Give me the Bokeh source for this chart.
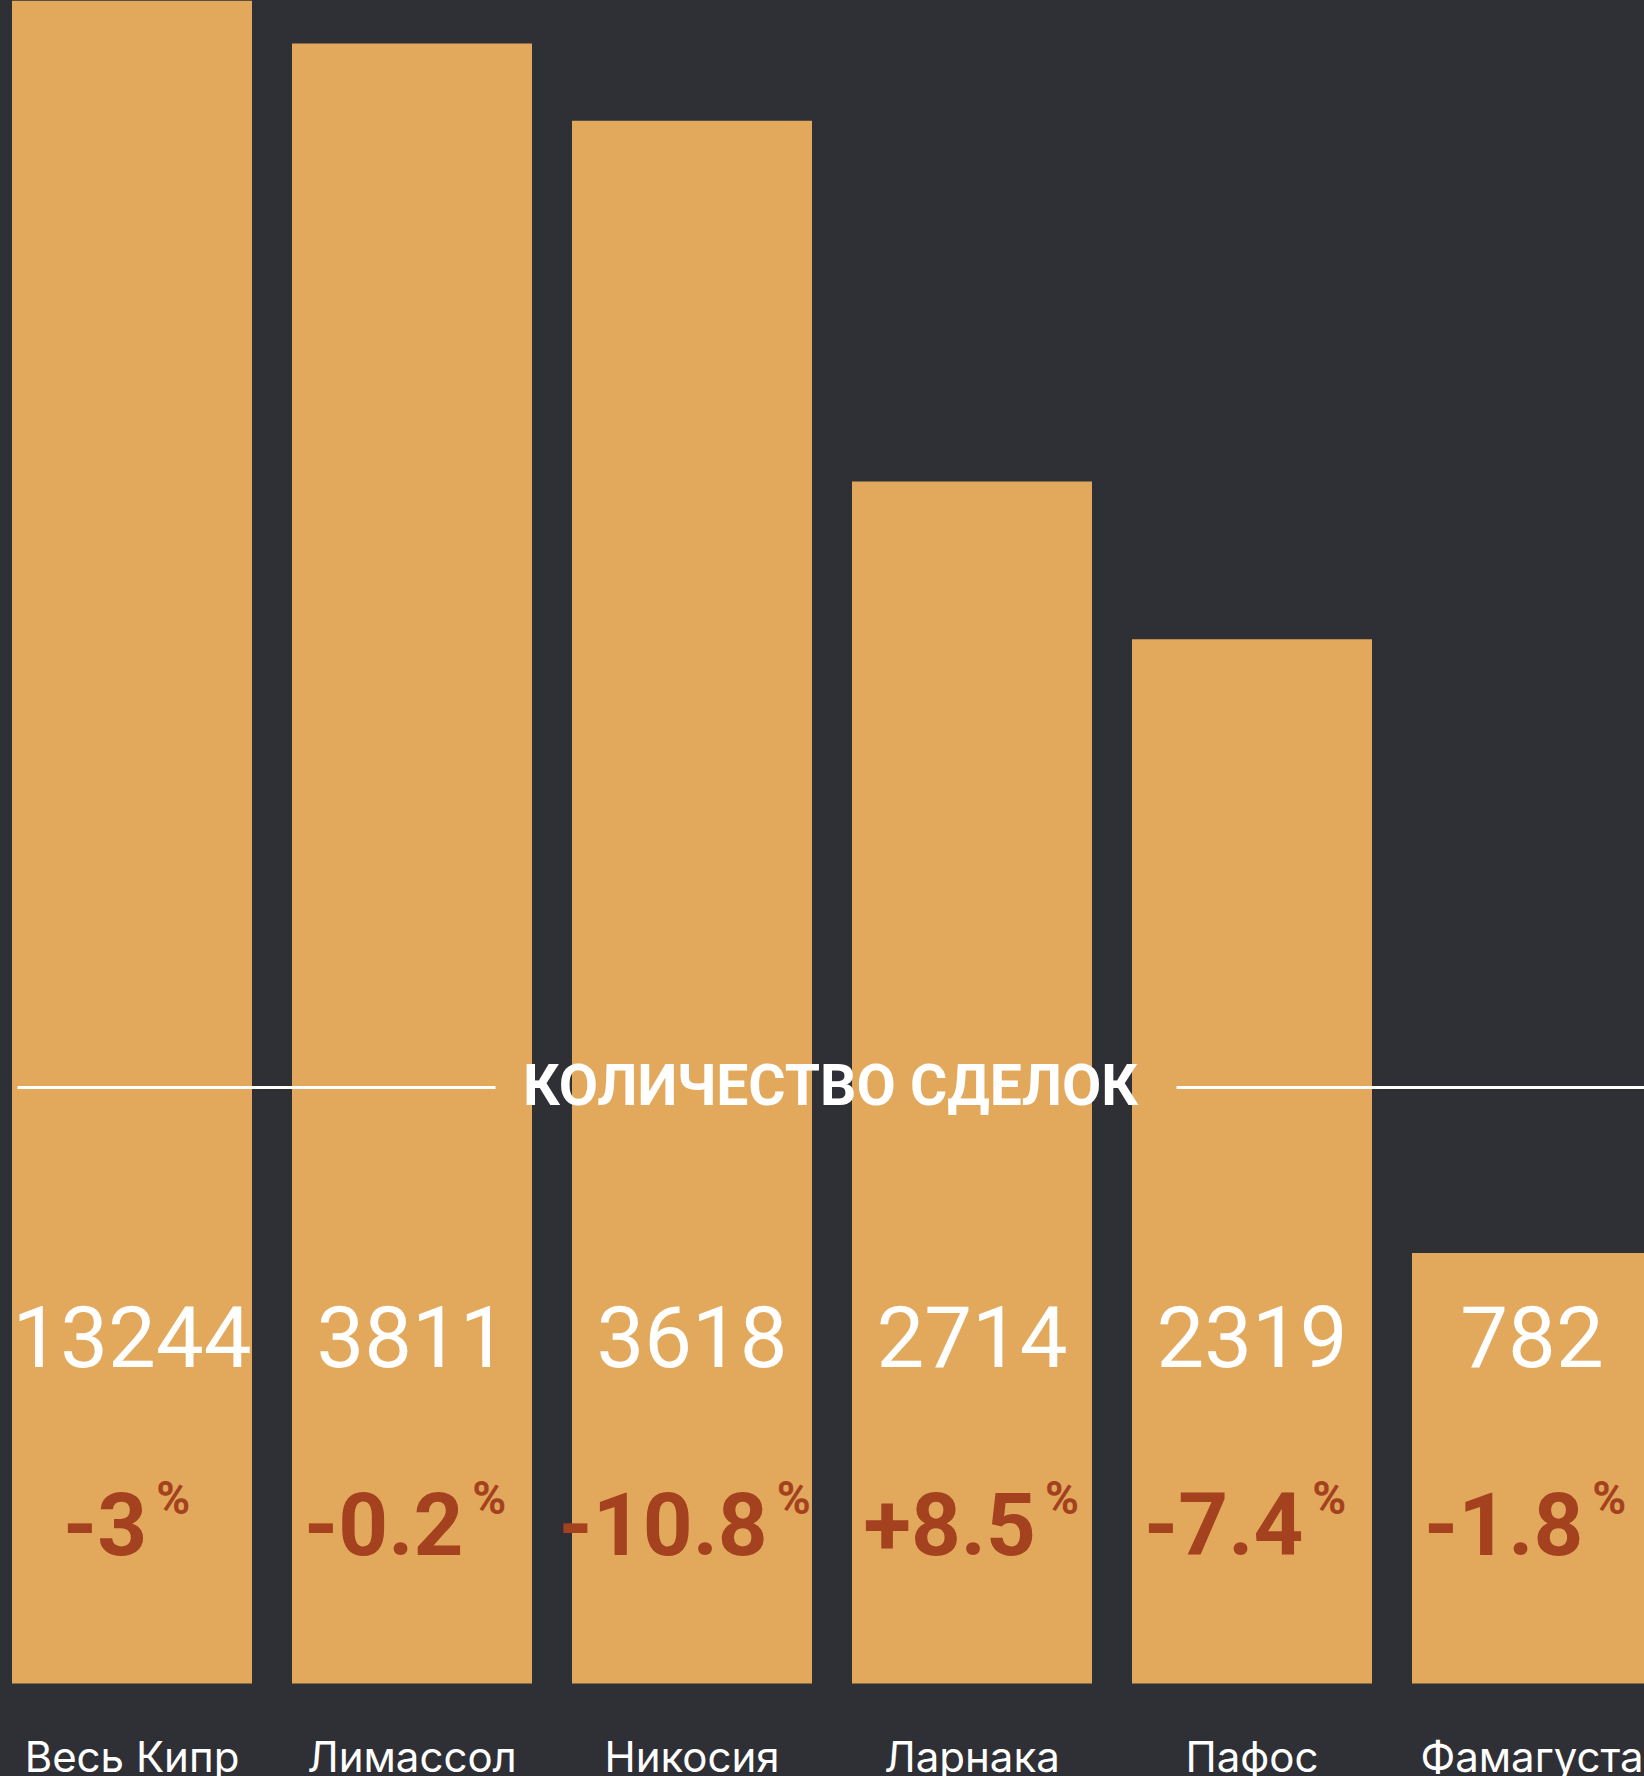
from bokeh.plotting import figure
from bokeh.models import Range1d, ColumnDataSource
from bokeh.embed import file_html
from bokeh.resources import INLINE
from bokeh.core.properties import value

# ---- data ----
cities = ["Весь Кипр", "Лимассол", "Никосия", "Ларнака", "Пафос", "Фамагуста"]
deals = [13244, 3811, 3618, 2714, 2319, 782]
changes = ["-3", "-0.2", "-10.8", "+8.5", "-7.4", "-1.8"]
heading = "КОЛИЧЕСТВО СДЕЛОК"

# ---- style / layout ----
W, H = 1644, 1776
BG = "#2f3035"
BAR = "#e2a95c"
RED = "#a4411f"

STEP = 280.0          # px between bar centres
X0 = 131.5            # px centre of first bar
x_start = -X0 / STEP
x_end = x_start + W / STEP

PPU = 0.3993          # px per deal
BASE_PX = 1683        # px (from top) of bar baseline
BASE_VAL = -296       # value at baseline
y_start = BASE_VAL - (H - BASE_PX) / PPU
y_end = BASE_VAL + BASE_PX / PPU

p = figure(width=W, height=H, output_backend="svg", toolbar_location=None,
           x_range=Range1d(x_start, x_end), y_range=Range1d(y_start, y_end),
           x_axis_location=None, y_axis_location=None,
           min_border=0, background_fill_color=BG, border_fill_color=BG,
           outline_line_color=None)
p.grid.visible = False
p.extra_y_ranges = {"px": Range1d(H, 0)}
p.extra_x_ranges = {"px": Range1d(0, W)}

def bl(y, fs):
    # compensate baseline placement of svg text
    return y - 0.385 * fs

# approximate advance widths (em) of Roboto Bold
adv = {"-": 0.277, "+": 0.568, ".": 0.27, "%": 0.733}
def width_em(s):
    return sum(adv.get(c, 0.562) for c in s)

DEAL_FS = 85
NUM_FS = 87
PCT_FS = 46
CITY_FS = 42
HEAD_FS = 57
GAP = 9
xs = list(range(len(cities)))
x_num, x_pct = [], []
for i, c in zip(xs, changes):
    wn = width_em(c) * NUM_FS
    wp = adv["%"] * PCT_FS
    d = (wn - GAP - wp) / 2
    x_num.append(i + d / STEP)
    x_pct.append(i + (d + GAP) / STEP)

src = ColumnDataSource(dict(
    x=xs,
    deals=deals,
    city=cities,
    deal_txt=[str(v) for v in deals],
    chg=changes,
    pct=["%"] * len(changes),
    x_num=x_num,
    x_pct=x_pct,
))

p.vbar(x="x", top="deals", bottom=BASE_VAL, width=240 / STEP, source=src,
       fill_color=BAR, line_color=None)

# deal counts
p.text(x="x", y=bl(1369, DEAL_FS), text="deal_txt", source=src, y_range_name="px",
       text_font=value("Roboto"), text_font_size=f"{DEAL_FS}px",
       text_color="white", text_align="center", text_baseline="alphabetic")

# change %
p.text(x="x_num", y=bl(1556, NUM_FS), text="chg", source=src, y_range_name="px",
       text_font=value("Roboto"), text_font_style="bold",
       text_font_size=f"{NUM_FS}px", text_color=RED, text_align="right",
       text_baseline="alphabetic")
p.text(x="x_pct", y=bl(1515, PCT_FS), text="pct", source=src, y_range_name="px",
       text_font=value("Roboto"), text_font_style="bold",
       text_font_size=f"{PCT_FS}px", text_color=RED, text_align="left",
       text_baseline="alphabetic")

# city labels
p.text(x="x", y=bl(1772, CITY_FS), text="city", source=src, y_range_name="px",
       text_font=value("Inter"), text_font_size=f"{CITY_FS}px",
       text_color="white", text_align="center", text_baseline="alphabetic")

# heading with rules
p.segment(x0=[17, 1176], x1=[495, 1644], y0=[1087, 1087], y1=[1087, 1087],
          x_range_name="px", y_range_name="px", line_color="white", line_width=3)
p.text(x=[830], y=[bl(1107, HEAD_FS)], text=[heading], x_range_name="px", y_range_name="px",
       text_font=value("Roboto"), text_font_style="bold", text_font_size=f"{HEAD_FS}px",
       text_color="white", text_align="center", text_baseline="alphabetic")

html = file_html(p, INLINE, title="Количество сделок")
html = html.replace("</head>",
                    "<style>html,body{margin:0;padding:0;background:%s;overflow:hidden;}</style></head>" % BG, 1)
open("out.html", "w").write(html)
